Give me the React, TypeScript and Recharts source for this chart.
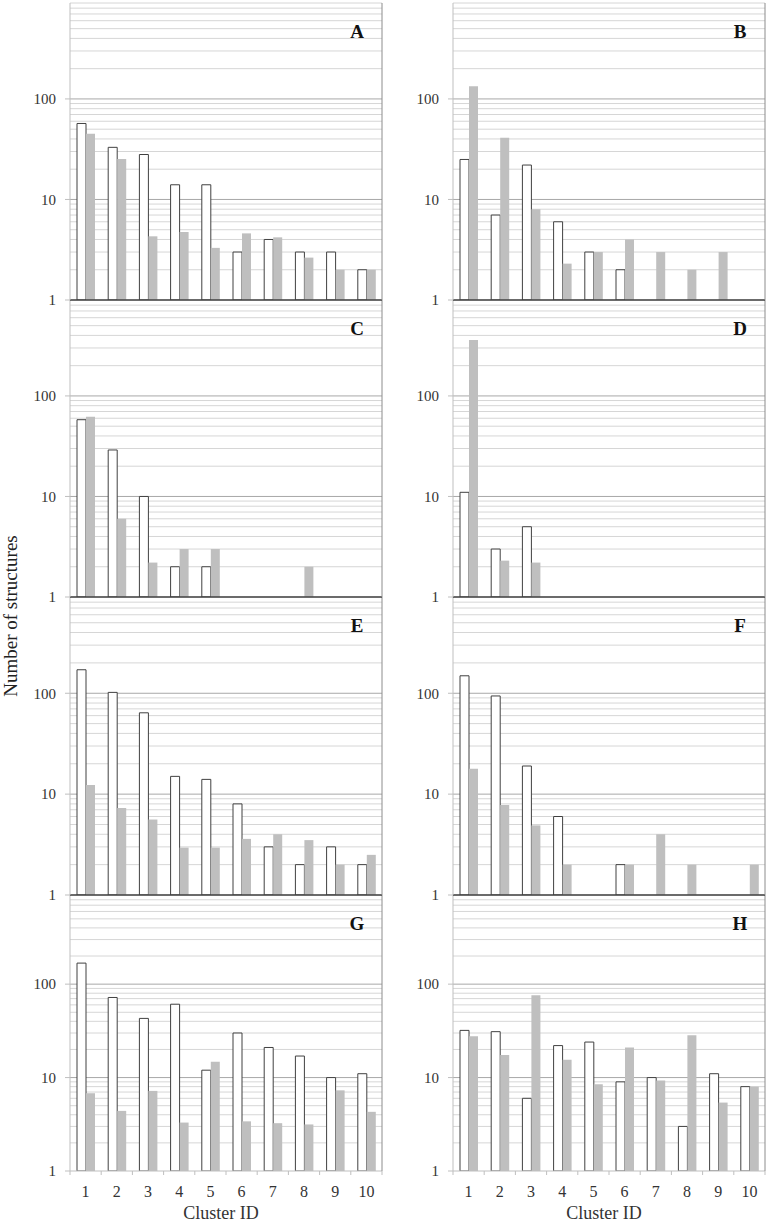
import React from 'react';
import { BarChart, Bar, XAxis, YAxis, CartesianGrid } from 'recharts';

const categories = ['1', '2', '3', '4', '5', '6', '7', '8', '9', '10'];
const yTicks = [1, 10, 100];
const minorGrid = [2, 3, 4, 5, 6, 7, 8, 9, 20, 30, 40, 50, 60, 70, 80, 90, 200, 300, 400, 500, 600, 700, 800, 900];
const majorGrid = [10, 100];
const Y_DOMAIN: [number, number] = [1, 900];

const aWhite = [57, 33, 28, 14, 14, 3, 4, 3, 3, 2];
const aGray = [45, 25.3, 4.3, 4.75, 3.3, 4.6, 4.2, 2.64, 2, 2];
const bWhite = [25, 7, 22, 6, 3, 2, null, null, null, null];
const bGray = [134, 41, 8, 2.3, 3, 4, 3, 2, 3, null];
const cWhite = [58, 29, 10, 2, 2, null, null, null, null, null];
const cGray = [62, 6, 2.2, 3, 3, null, null, 2, null, null];
const dWhite = [11, 3, 5, null, null, null, null, null, null, null];
const dGray = [360, 2.3, 2.2, null, null, null, null, null, null, null];
const eWhite = [171, 102, 64, 15, 14, 8, 3, 2, 3, 2];
const eGray = [12.3, 7.3, 5.6, 2.95, 2.95, 3.6, 4, 3.5, 2, 2.5];
const fWhite = [149, 94, 19, 6, null, 2, null, null, null, null];
const fGray = [17.8, 7.8, 4.9, 2, null, 2, 4, 2, null, 2];
const gWhite = [168, 72, 43, 61, 12, 30, 21, 17, 10, 11];
const gGray = [6.8, 4.4, 7.2, 3.3, 14.8, 3.4, 3.25, 3.15, 7.3, 4.3];
const hWhite = [32, 31, 6, 22, 24, 9, 10, 3, 11, 8];
const hGray = [27.7, 17.4, 76, 15.5, 8.5, 21, 9.3, 28.4, 5.4, 8];

const panels = [
  { letter: 'A', white: aWhite, gray: aGray, col: 0, row: 0 },
  { letter: 'B', white: bWhite, gray: bGray, col: 1, row: 0 },
  { letter: 'C', white: cWhite, gray: cGray, col: 0, row: 1 },
  { letter: 'D', white: dWhite, gray: dGray, col: 1, row: 1 },
  { letter: 'E', white: eWhite, gray: eGray, col: 0, row: 2 },
  { letter: 'F', white: fWhite, gray: fGray, col: 1, row: 2 },
  { letter: 'G', white: gWhite, gray: gGray, col: 0, row: 3 },
  { letter: 'H', white: hWhite, gray: hGray, col: 1, row: 3 },
];

const FONT = '"Liberation Serif", "Times New Roman", serif';
const PLOT_W = 312;
const Y_AXIS_W = 70;
const COL_LEFT = [0, 383];
const ROW_TOP = [3, 300, 597, 895];
const ROW_BOTTOM = [300, 597, 895, 1171];
const HALF_BAND = PLOT_W / categories.length / 2;

const XTick = (props: any) => {
  const { x, y, payload, index } = props;
  return (
    <g>
      <line x1={x - HALF_BAND} x2={x - HALF_BAND} y1={y - 15} y2={y - 11} stroke="#bfbfbf" />
      {index === categories.length - 1 && (
        <line x1={x + HALF_BAND} x2={x + HALF_BAND} y1={y - 15} y2={y - 11} stroke="#bfbfbf" />
      )}
      <text x={x} y={y} dy="0.71em" textAnchor="middle" fontSize={16} fill="#333" fontFamily={FONT}>
        {payload.value}
      </text>
    </g>
  );
};

function Panel({ letter, white, gray, col, row }: any) {
  const last = row === 3;
  const xAxisH = last ? 52 : 5;
  const bottomPad = last ? 0 : 8;
  const top = ROW_TOP[row] - 3;
  const plotH = ROW_BOTTOM[row] - ROW_TOP[row];
  const height = 3 + plotH + xAxisH + bottomPad;
  const width = Y_AXIS_W + PLOT_W + 1 + 3;
  const data = categories.map((c, i) => ({ c, w: white[i], g: gray[i] }));
  return (
    <div style={{ position: 'absolute', left: COL_LEFT[col], top, width, height, zIndex: 10 - row }}>
      <BarChart
        width={width}
        height={height}
        data={data}
        margin={{ top: 3, right: 3, bottom: bottomPad, left: 0 }}
        barGap={0}
        barSize={9}
        style={{ overflow: 'visible' }}
      >
        <CartesianGrid vertical={false} horizontalValues={minorGrid} stroke="#d6d6d6" />
        <CartesianGrid vertical={false} horizontalValues={majorGrid} stroke="#a8a8a8" />
        {last ? (
          <XAxis
            dataKey="c"
            height={52}
            tickLine={false}
            tickSize={4}
            tickMargin={11}
            axisLine={{ stroke: '#bfbfbf' }}
            tick={<XTick />}
            interval={0}
            label={{
              value: 'Cluster ID',
              position: 'insideBottom',
              offset: 4,
              dx: -5,
              style: { fontSize: 18, fontFamily: FONT, fill: '#333' },
            }}
          />
        ) : (
          <XAxis
            dataKey="c"
            height={5}
            tick={false}
            tickLine={false}
            axisLine={{ stroke: '#404040', strokeWidth: 1.5 }}
          />
        )}
        <YAxis
          type="number"
          scale="log"
          domain={Y_DOMAIN}
          allowDataOverflow
          ticks={yTicks}
          interval={0}
          width={Y_AXIS_W}
          tickSize={5}
          tickMargin={9}
          tickLine={{ stroke: '#bfbfbf' }}
          axisLine={{ stroke: '#bfbfbf' }}
          tick={{ fontSize: 15, fontFamily: FONT, fill: '#333' }}
        />
        <YAxis
          yAxisId="r"
          orientation="right"
          type="number"
          scale="log"
          domain={Y_DOMAIN}
          allowDataOverflow
          width={1}
          tick={false}
          tickLine={false}
          axisLine={{ stroke: '#8c8c8c' }}
        />
        <Bar dataKey="w" fill="#ffffff" stroke="#404040" strokeWidth={1} isAnimationActive={false} />
        <Bar dataKey="g" fill="#bfbfbf" isAnimationActive={false} />
      </BarChart>
      <div
        style={{
          position: 'absolute',
          left: Y_AXIS_W + PLOT_W - 25,
          top: 3 + 28,
          transform: 'translate(-50%, -50%)',
          fontFamily: FONT,
          fontWeight: 'bold',
          fontSize: 19,
          color: '#111',
          lineHeight: 1,
        }}
      >
        {letter}
      </div>
    </div>
  );
}

export default function App() {
  return (
    <div
      style={{
        position: 'absolute',
        left: 0,
        top: 0,
        width: 769,
        height: 1223,
        background: '#fff',
        overflow: 'hidden',
      }}
    >
      {panels.map((p) => (
        <Panel key={p.letter} {...p} />
      ))}
      <div
        style={{
          position: 'absolute',
          left: 10,
          top: 616,
          transform: 'translate(-50%, -50%) rotate(-90deg)',
          whiteSpace: 'nowrap',
          fontFamily: FONT,
          fontSize: 19,
          color: '#222',
          lineHeight: 1,
        }}
      >
        Number of structures
      </div>
    </div>
  );
}
